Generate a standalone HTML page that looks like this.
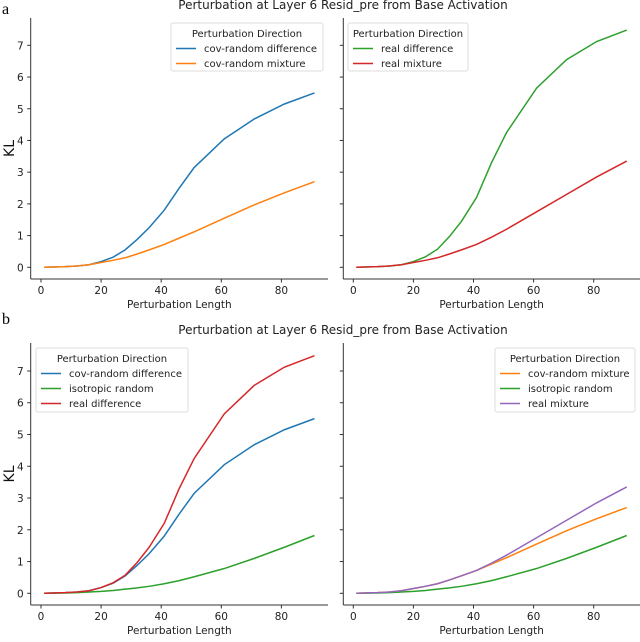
<!DOCTYPE html>
<html><head><meta charset="utf-8"><style>
body{margin:0;background:#fff;width:640px;height:637px;overflow:hidden}
svg{font-family:"DejaVu Sans","Liberation Sans",sans-serif}
</style></head><body>
<svg id="c" width="640" height="637" xmlns="http://www.w3.org/2000/svg">
<text x="2" y="14" font-family="Liberation Serif,serif" font-size="16">a</text>
<text x="2" y="324" font-family="Liberation Serif,serif" font-size="16">b</text>
<text x="343" y="9" text-anchor="middle" font-size="12" fill="#222">Perturbation at Layer 6 Resid_pre from Base Activation</text>
<text x="343" y="334" text-anchor="middle" font-size="12" fill="#222">Perturbation at Layer 6 Resid_pre from Base Activation</text>
</svg>
<script>
const xs=[1,8,12,16,20,24,28,32,36,41,46,51,61,71,81,91];
const covDiff=[0,0.02,0.04,0.08,0.18,0.32,0.55,0.88,1.25,1.8,2.5,3.15,4.05,4.68,5.15,5.5];
const covMix=[0,0.02,0.04,0.08,0.15,0.22,0.3,0.42,0.55,0.72,0.92,1.12,1.55,1.97,2.35,2.7];
const realDiff=[0,0.02,0.04,0.08,0.18,0.33,0.57,0.97,1.45,2.2,3.3,4.25,5.65,6.55,7.12,7.48];
const realMix=[0,0.02,0.04,0.08,0.15,0.22,0.3,0.42,0.55,0.72,0.95,1.2,1.75,2.3,2.85,3.35];
const iso=[0,0.01,0.02,0.04,0.06,0.09,0.13,0.17,0.22,0.3,0.4,0.52,0.78,1.1,1.45,1.82];
const xTicks=[0,20,40,60,80];
const yTicks=[0,1,2,3,4,5,6,7];
const C={blue:'#1f77b4',orange:'#ff7f0e',green:'#2ca02c',red:'#d62728',purple:'#9467bd'};
const svg=document.getElementById('c');
const NS='http://www.w3.org/2000/svg';
function mk(t,a,p){const e=document.createElementNS(NS,t);for(const k in a)e.setAttribute(k,a[k]);(p||svg).appendChild(e);return e;}
function panel(id,x0,y0,yUnit,spineL,spineR,spineT,spineB,showY,series,leg){
  const g=mk('g',{});
  
  
  const X=v=>x0+v*3.005, Y=v=>y0-v*yUnit;
  mk('line',{x1:spineL,y1:spineT,x2:spineL,y2:spineB,stroke:'#333','stroke-width':1},g);
  mk('line',{x1:spineL,y1:spineB,x2:spineR,y2:spineB,stroke:'#333','stroke-width':1},g);
  xTicks.forEach(t=>{mk('line',{x1:X(t),y1:spineB,x2:X(t),y2:spineB+3.5,stroke:'#333'},g);
    const tx=mk('text',{x:X(t),y:spineB+15,'text-anchor':'middle','font-size':10.5,fill:'#222'},g);tx.textContent=t;
    
    });
  yTicks.forEach(t=>{mk('line',{x1:spineL-3.5,y1:Y(t),x2:spineL,y2:Y(t),stroke:'#333'},g);
    if(showY){const tx=mk('text',{x:spineL-7,y:Y(t)+4,'text-anchor':'end','font-size':10.5,fill:'#222'},g);tx.textContent=t;
    
    }});
  const xl=mk('text',{x:(spineL+spineR)/2,y:spineB+29,'text-anchor':'middle','font-size':10.5,fill:'#222'},g);xl.textContent='Perturbation Length';
  
  
  if(showY){const yl=mk('text',{x:0,y:0,'text-anchor':'middle','font-size':14,fill:'#111',transform:`translate(14,${(spineT+spineB)/2}) rotate(-90)`},g);yl.textContent='KL';
    
    }
  series.forEach(s=>{const p=mk('polyline',{points:xs.map((v,i)=>X(v)+','+Y(s.d[i])).join(' '),fill:'none',stroke:s.c,'stroke-width':1.5},g);
    
    });
  const lg=mk('g',{},g);
  
  
  mk('rect',{x:leg.x,y:leg.y,width:leg.w,height:leg.h,fill:'#fff',stroke:'#ddd',rx:2},lg);
  const tt=mk('text',{x:leg.x+leg.w/2,y:leg.y+14,'text-anchor':'middle','font-size':10,fill:'#222'},lg);tt.textContent='Perturbation Direction';
  series.forEach((s,i)=>{const yy=leg.y+29+i*15;
    mk('line',{x1:leg.x+5,y1:yy-3.5,x2:leg.x+25,y2:yy-3.5,stroke:s.c,'stroke-width':1.5},lg);
    const t=mk('text',{x:leg.x+33,y:yy,'font-size':10,fill:'#222'},lg);t.textContent=s.n;
    
    });
}
panel('plot-a-left',41,267.3,31.71,30.7,328,18,279,true,
 [{n:'cov-random difference',c:C.blue,d:covDiff},{n:'cov-random mixture',c:C.orange,d:covMix}],{x:171,y:23,w:152,h:48});
panel('plot-a-right',353.3,267.3,31.71,343.3,640,18,279,false,
 [{n:'real difference',c:C.green,d:realDiff},{n:'real mixture',c:C.red,d:realMix}],{x:348,y:23,w:120,h:48});
panel('plot-b-left',41,593.3,31.76,30.7,328,343,605,true,
 [{n:'cov-random difference',c:C.blue,d:covDiff},{n:'isotropic random',c:C.green,d:iso},{n:'real difference',c:C.red,d:realDiff}],{x:36,y:348,w:152,h:64});
panel('plot-b-right',353.3,593.3,31.76,343.3,640,343,605,false,
 [{n:'cov-random mixture',c:C.orange,d:covMix},{n:'isotropic random',c:C.green,d:iso},{n:'real mixture',c:C.purple,d:realMix}],{x:495,y:348,w:140,h:64});
</script>
</body></html>
